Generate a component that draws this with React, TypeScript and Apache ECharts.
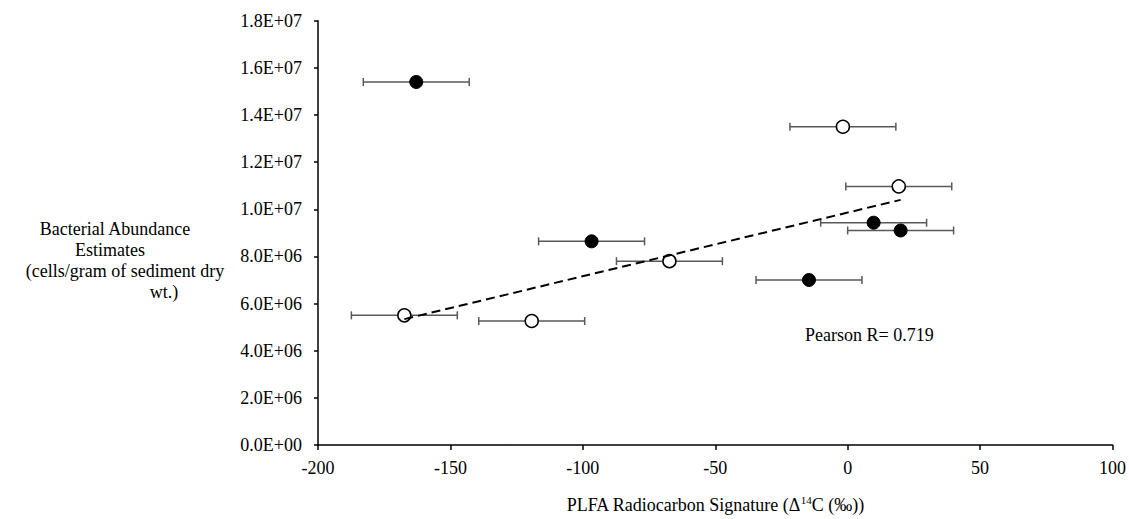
import React, { useEffect, useRef } from "react";
import * as echarts from "echarts";

const filledX = [-162.9, -96.7, 9.8, 20.0, -14.6];
const filledY = [15.4e6, 8.64e6, 9.43e6, 9.1e6, 7.0e6];
const filledErr = [20, 20, 20, 20, 20];
const openX = [-1.8, 19.3, -67.3, -167.4, -119.3];
const openY = [13.5e6, 10.97e6, 7.8e6, 5.5e6, 5.26e6];
const openErr = [20, 20, 20, 20, 20];
const trendX = [-167.4, 20.0];
const trendY = [5.34e6, 10.4e6];
const pearsonText = "Pearson R= 0.719";
const yTitleLines = ["Bacterial Abundance", "Estimates", "(cells/gram of sediment dry", "wt.)"];

const FONT = "Liberation Serif";

function sci(v: number): string {
  if (v === 0) return "0.0E+00";
  const e = Math.floor(Math.log10(Math.abs(v)) + 1e-9);
  const m = v / Math.pow(10, e);
  const es = (e < 0 ? "-" : "+") + String(Math.abs(e)).padStart(2, "0");
  return m.toFixed(1) + "E" + es;
}

export default function App() {
  const ref = useRef<HTMLDivElement>(null);
  useEffect(() => {
    if (!ref.current) return;
    const chart = echarts.init(ref.current, null, { renderer: "svg" });
    const errData = [
      ...filledX.map((x, i) => [x, filledY[i], x - filledErr[i], x + filledErr[i]]),
      ...openX.map((x, i) => [x, openY[i], x - openErr[i], x + openErr[i]]),
    ];
    const yTitleX = [115, 110, 125, 164];
    chart.setOption({
      animation: false,
      textStyle: { fontFamily: FONT },
      grid: { left: 318, right: 15, top: 20.7, bottom: 67.3, containLabel: false },
      xAxis: {
        type: "value",
        min: -200,
        max: 100,
        interval: 50,
        splitLine: { show: false },
        axisLine: { onZero: false, lineStyle: { color: "#000", width: 1.5 } },
        axisTick: { show: true, length: 5, lineStyle: { color: "#000", width: 1.5 } },
        axisLabel: { color: "#000", fontFamily: FONT, fontSize: 18, margin: 14 },
        name: "{n|PLFA Radiocarbon Signature (Δ}{sup|14}{n|C (‰))}",
        nameLocation: "middle",
        nameGap: 49,
        nameTextStyle: {
          color: "#000",
          fontFamily: FONT,
          fontSize: 18,
          rich: {
            n: { fontFamily: FONT, fontSize: 18, color: "#000", lineHeight: 20, verticalAlign: "bottom" },
            sup: { fontFamily: FONT, fontSize: 11, color: "#000", lineHeight: 20, verticalAlign: "top" },
          },
        },
      },
      yAxis: {
        type: "value",
        min: 0,
        max: 1.8e7,
        interval: 2e6,
        splitLine: { show: false },
        axisLine: { show: true, onZero: false, lineStyle: { color: "#000", width: 1.5 } },
        axisTick: { show: true, length: 4, lineStyle: { color: "#000", width: 1.5 } },
        axisLabel: { color: "#000", fontFamily: FONT, fontSize: 18, margin: 16, formatter: (v: number) => sci(v) },
      },
      graphic: [
        ...yTitleLines.map((t, i) => ({
          type: "text",
          x: yTitleX[i],
          y: 229 + i * 21,
          style: { text: t, fill: "#000", fontFamily: FONT, fontSize: 18, textAlign: "center", textVerticalAlign: "middle" },
        })),
        {
          type: "text",
          x: 805,
          y: 335,
          style: { text: pearsonText, fill: "#000", fontFamily: FONT, fontSize: 18, textAlign: "left", textVerticalAlign: "middle" },
        },
      ],
      series: [
        {
          type: "custom",
          z: 1,
          data: errData,
          encode: { x: [2, 3], y: 1 },
          renderItem: (params: any, api: any) => {
            const y = api.value(1);
            const lo = api.coord([api.value(2), y]);
            const hi = api.coord([api.value(3), y]);
            const st = { stroke: "#595959", lineWidth: 1.5 };
            return {
              type: "group",
              children: [
                { type: "line", shape: { x1: lo[0], y1: lo[1], x2: hi[0], y2: hi[1] }, style: st },
                { type: "line", shape: { x1: lo[0], y1: lo[1] - 4, x2: lo[0], y2: lo[1] + 4 }, style: st },
                { type: "line", shape: { x1: hi[0], y1: hi[1] - 4, x2: hi[0], y2: hi[1] + 4 }, style: st },
              ],
            };
          },
        },
        {
          type: "scatter",
          z: 3,
          symbol: "circle",
          symbolSize: 13,
          itemStyle: { color: "#000", borderColor: "#000", borderWidth: 1, opacity: 1 },
          data: filledX.map((x, i) => [x, filledY[i]]),
        },
        {
          type: "scatter",
          z: 3,
          symbol: "circle",
          symbolSize: 13,
          itemStyle: { color: "#fff", borderColor: "#000", borderWidth: 1.5, opacity: 1 },
          data: openX.map((x, i) => [x, openY[i]]),
        },
        {
          type: "line",
          z: 4,
          symbol: "none",
          lineStyle: { color: "#000", width: 2, type: [9, 5] },
          data: trendX.map((x, i) => [x, trendY[i]]),
        },
      ],
    });
    return () => chart.dispose();
  }, []);
  return <div ref={ref} style={{ position: "absolute", left: 0, top: 0, width: 1129, height: 519, background: "#fff" }} />;
}
